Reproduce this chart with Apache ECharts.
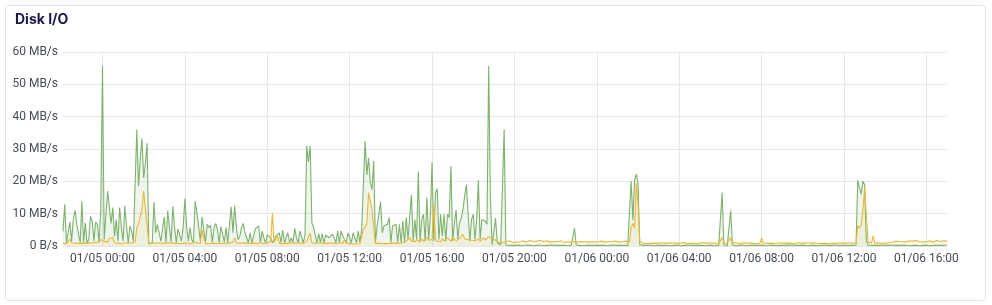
<!DOCTYPE html>
<html>
<head>
<meta charset="utf-8">
<script src="https://cdn.jsdelivr.net/npm/echarts@6/dist/echarts.min.js"></script>
<style>
  html, body { margin: 0; padding: 0; background: #ffffff; }
  #card { position: absolute; left: 5px; top: 5px; width: 979px; height: 294px; border: 1px solid #e3e4e8; border-radius: 3px; background: #fff; }
  #chart { position: absolute; left: 0; top: 0; width: 992px; height: 305px; }
</style>
</head>
<body>
<div id="card"></div>
<div id="chart"></div>
<script>
// Sampling: every 5 minutes from 01/04 22:05 to 01/06 17:00 (516 samples)
const startTime = { year: 2025, month: 0, day: 4, hour: 22, minute: 5 };
const stepMinutes = 5;
const sampleCount = 516;

const tickLabels = ['01/05 00:00', '01/05 04:00', '01/05 08:00', '01/05 12:00', '01/05 16:00', '01/05 20:00',
  '01/06 00:00', '01/06 04:00', '01/06 08:00', '01/06 12:00', '01/06 16:00'];

const yTicks = [0, 10, 20, 30, 40, 50, 60];

// MB/s, green series
const readValues = [
  4.5, 12.9, 1.0, 0.8, 7.4, 1.5, 8.2, 11.0, 6.8, 6.2, 1.0, 13.8,
  1.0, 7.2, 0.8, 2.0, 9.2, 7.7, 1.5, 7.4, 6.7, 1.2, 10.8, 55.7,
  2.0, 9.8, 17.0, 17.0, 7.0, 11.9, 3.0, 8.2, 1.5, 11.9, 5.7, 1.5,
  12.4, 6.2, 1.0, 6.2, 4.6, 1.5, 1.0, 36.0, 18.5, 27.0, 33.2, 21.0,
  25.5, 31.8, 0.6, 0.8, 1.0, 13.6, 4.1, 6.7, 4.1, 1.5, 2.0, 9.0,
  1.0, 11.0, 5.7, 1.2, 12.3, 5.7, 1.0, 5.2, 5.7, 1.5, 5.7, 14.7,
  6.2, 1.5, 5.7, 2.0, 1.0, 13.9, 10.3, 6.2, 1.5, 9.0, 5.2, 1.0,
  6.7, 5.7, 6.4, 1.0, 5.7, 7.0, 5.0, 1.0, 6.0, 6.0, 1.2, 5.7,
  1.0, 0.8, 12.1, 4.1, 12.4, 5.7, 2.0, 3.0, 5.7, 7.0, 4.1, 4.1,
  1.0, 4.1, 1.0, 0.8, 5.2, 5.2, 6.2, 1.0, 4.6, 2.5, 1.0, 3.5,
  4.1, 2.5, 1.0, 0.8, 3.0, 2.5, 4.1, 1.0, 4.9, 1.0, 0.8, 4.1,
  1.0, 2.5, 1.2, 5.5, 2.5, 1.0, 4.6, 4.6, 1.0, 3.5, 31.0, 26.0,
  31.0, 7.2, 5.7, 6.2, 1.0, 3.8, 1.0, 3.8, 1.0, 3.4, 3.4, 2.5,
  2.9, 3.6, 2.5, 1.0, 4.6, 1.0, 4.6, 3.1, 3.6, 1.0, 4.1, 3.6,
  1.0, 4.1, 4.1, 1.0, 4.6, 1.0, 5.2, 5.7, 32.5, 22.0, 27.3, 19.6,
  17.5, 26.3, 1.0, 6.2, 6.7, 13.7, 4.1, 6.2, 5.7, 6.7, 8.8, 1.0,
  6.2, 6.7, 6.7, 1.0, 6.7, 1.0, 7.7, 1.0, 8.8, 2.0, 9.3, 15.8,
  1.5, 8.2, 2.0, 23.0, 1.5, 8.2, 9.8, 1.5, 15.0, 2.0, 9.3, 25.8,
  1.5, 16.5, 17.7, 2.0, 9.8, 3.0, 9.8, 1.5, 9.8, 8.8, 24.7, 1.5,
  7.2, 11.1, 2.0, 7.2, 8.5, 11.3, 15.5, 19.0, 10.3, 1.5, 8.2, 9.8,
  2.0, 8.2, 20.3, 2.0, 8.2, 8.8, 7.7, 6.7, 55.7, 14.4, 0.3, 0.2,
  8.6, 1.0, 0.5, 0.3, 0.5, 36.0, 0.3, 0.2, 0.2, 0.3, 0.2, 0.2,
  0.2, 0.3, 0.2, 0.2, 0.1, 0.2, 0.3, 0.2, 0.2, 0.2, 0.1, 0.2,
  0.2, 0.2, 0.3, 0.2, 0.1, 0.2, 0.2, 0.2, 0.3, 0.2, 0.2, 0.1,
  0.2, 0.2, 0.2, 0.3, 0.2, 0.2, 0.1, 0.2, 0.2, 0.2, 5.5, 0.3,
  0.2, 0.2, 0.2, 0.1, 0.2, 0.2, 0.3, 0.2, 0.2, 0.2, 0.1, 0.2,
  0.2, 0.2, 0.3, 0.2, 0.2, 0.1, 0.2, 0.2, 0.2, 0.3, 0.2, 0.2,
  0.1, 0.2, 0.2, 0.2, 0.3, 0.2, 0.3, 20.1, 8.0, 20.5, 22.2, 19.5,
  0.4, 0.2, 0.2, 0.1, 0.2, 0.2, 0.3, 0.2, 0.1, 0.2, 0.2, 0.2,
  0.2, 0.1, 0.2, 0.3, 0.2, 0.2, 0.1, 0.2, 0.2, 0.2, 0.3, 0.2,
  0.1, 0.2, 0.2, 0.2, 0.3, 0.2, 0.2, 0.1, 0.2, 0.2, 0.2, 0.3,
  0.2, 0.2, 0.1, 0.2, 0.2, 0.3, 0.2, 0.2, 0.1, 0.2, 0.2, 0.3,
  16.5, 0.3, 0.2, 0.2, 0.3, 11.0, 0.3, 0.2, 0.1, 0.2, 0.2, 0.2,
  0.3, 0.2, 0.1, 0.2, 0.2, 0.2, 0.3, 0.2, 0.2, 0.1, 0.2, 0.3,
  0.2, 0.2, 0.1, 0.2, 0.3, 0.2, 0.2, 0.2, 0.1, 0.2, 0.2, 0.3,
  0.2, 0.1, 0.2, 0.2, 0.3, 0.2, 0.2, 0.1, 0.2, 0.2, 0.2, 0.3,
  0.2, 0.2, 0.1, 0.2, 0.2, 0.3, 0.2, 0.2, 0.1, 0.2, 0.2, 0.2,
  0.3, 0.2, 0.2, 0.1, 0.2, 0.2, 0.3, 0.2, 0.2, 0.1, 0.2, 0.2,
  0.2, 0.3, 0.2, 0.1, 0.2, 0.2, 0.3, 20.3, 20.0, 16.0, 20.0, 19.0,
  1.5, 0.3, 0.2, 0.2, 0.3, 0.2, 0.1, 0.2, 0.2, 0.3, 0.2, 0.2,
  0.1, 0.2, 0.2, 0.3, 0.2, 0.2, 0.1, 0.2, 0.2, 0.2, 0.3, 0.2,
  0.2, 0.1, 0.2, 0.2, 0.3, 0.2, 0.2, 0.1, 0.2, 0.2, 0.3, 0.2,
  0.2, 0.1, 0.2, 0.2, 0.3, 0.2, 0.2, 0.2, 0.1, 0.2, 0.2, 0.3
];

// MB/s, yellow series
const writeValues = [
  0.8, 1.0, 0.7, 1.2, 2.1, 1.0, 0.8, 0.9, 1.1, 0.8, 1.0, 0.9,
  1.0, 0.8, 1.1, 0.9, 0.8, 1.0, 0.9, 1.1, 1.0, 1.2, 2.0, 2.3,
  1.5, 0.9, 1.2, 2.4, 2.0, 2.6, 1.0, 0.8, 0.9, 1.0, 0.7, 0.8,
  1.0, 0.6, 0.9, 0.7, 1.0, 0.8, 1.2, 5.7, 6.7, 6.2, 11.3, 17.0,
  11.5, 11.3, 1.0, 0.8, 0.9, 1.1, 0.8, 0.7, 1.0, 0.9, 0.8, 1.1,
  0.9, 0.8, 1.0, 0.7, 0.9, 1.1, 0.8, 0.9, 0.7, 1.0, 0.8, 0.9,
  1.0, 0.8, 0.7, 0.9, 1.0, 0.8, 1.1, 0.9, 0.8, 5.0, 2.5, 0.8,
  0.9, 0.7, 1.0, 0.8, 0.9, 0.8, 1.0, 0.7, 0.9, 0.8, 1.0, 0.9,
  0.8, 0.9, 1.0, 1.2, 2.5, 1.0, 0.8, 0.9, 0.7, 1.0, 0.8, 0.9,
  1.0, 0.8, 0.7, 0.9, 1.0, 0.8, 0.9, 1.1, 0.8, 0.7, 0.9, 1.0,
  0.8, 1.5, 10.3, 1.2, 0.9, 3.0, 0.8, 1.0, 0.7, 0.9, 0.8, 1.0,
  0.9, 0.8, 1.0, 0.7, 0.9, 0.8, 1.0, 0.9, 0.8, 1.0, 1.5, 1.2,
  4.0, 1.0, 0.8, 0.9, 0.7, 1.0, 0.8, 0.9, 1.0, 0.8, 0.7, 0.9,
  0.8, 1.0, 0.9, 0.7, 0.8, 1.0, 0.9, 0.8, 2.0, 0.9, 0.7, 0.8,
  0.9, 0.7, 0.8, 0.6, 0.9, 0.7, 0.8, 5.2, 5.5, 6.7, 16.5, 16.0,
  11.3, 11.0, 0.8, 0.7, 0.9, 0.8, 0.7, 1.0, 0.8, 0.9, 0.7, 0.8,
  0.9, 1.0, 0.8, 0.7, 0.9, 1.2, 1.0, 0.9, 1.5, 1.8, 2.6, 1.5,
  1.8, 1.3, 2.0, 1.6, 1.2, 2.2, 1.5, 1.3, 2.6, 1.8, 1.4, 2.0,
  13.0, 2.2, 1.5, 1.8, 1.3, 2.4, 1.6, 1.9, 2.5, 2.1, 1.5, 2.8,
  2.3, 1.6, 2.0, 2.4, 1.8, 3.6, 2.2, 1.7, 2.0, 1.5, 1.8, 2.3,
  1.6, 2.0, 2.2, 1.5, 1.9, 2.5, 1.8, 1.6, 2.9, 2.4, 2.3, 2.0,
  1.8, 1.5, 1.2, 1.4, 1.1, 1.5, 1.3, 1.2, 1.6, 1.4, 1.1, 1.3,
  1.2, 1.5, 1.3, 1.1, 1.6, 1.4, 1.2, 1.3, 1.7, 1.1, 1.4, 1.2,
  1.5, 1.3, 1.8, 1.2, 1.4, 1.1, 1.6, 1.3, 1.2, 1.5, 1.4, 1.9,
  1.3, 1.2, 1.6, 1.4, 1.1, 1.5, 1.3, 1.7, 1.2, 1.4, 1.3, 1.6,
  1.2, 1.5, 1.4, 1.1, 1.3, 1.8, 1.2, 1.5, 1.3, 1.4, 1.2, 1.6,
  1.3, 1.1, 1.5, 1.4, 1.2, 1.6, 1.3, 1.2, 1.4, 1.1, 1.5, 1.3,
  1.2, 1.4, 1.3, 1.1, 1.5, 1.2, 1.3, 5.7, 7.0, 5.5, 19.5, 13.0,
  1.5, 0.9, 0.8, 1.0, 0.7, 0.9, 0.8, 1.0, 0.9, 0.7, 0.8, 1.0,
  0.9, 0.8, 1.0, 0.7, 0.9, 1.1, 0.8, 0.9, 1.0, 0.7, 0.8, 1.0,
  0.9, 0.8, 1.1, 0.9, 0.7, 1.0, 0.8, 0.9, 0.8, 1.0, 0.7, 0.9,
  1.0, 0.8, 0.9, 0.7, 1.0, 0.8, 0.9, 1.1, 0.8, 0.9, 0.7, 1.0,
  2.6, 0.9, 0.8, 1.0, 0.7, 2.6, 0.9, 0.8, 1.0, 0.9, 0.7, 0.8,
  1.0, 0.9, 0.8, 0.7, 1.0, 0.9, 0.8, 1.0, 0.7, 0.9, 0.8, 2.4,
  0.9, 1.0, 0.8, 0.7, 0.9, 1.0, 0.8, 0.9, 0.7, 0.8, 1.0, 0.9,
  0.8, 0.7, 0.9, 1.0, 0.8, 0.9, 0.7, 0.8, 1.0, 0.9, 0.8, 0.7,
  0.9, 0.8, 1.0, 0.7, 0.8, 0.9, 1.0, 0.8, 0.7, 0.9, 0.8, 1.0,
  0.8, 0.9, 0.7, 1.0, 0.8, 0.9, 0.8, 0.7, 1.0, 0.9, 0.8, 0.7,
  0.9, 0.8, 1.0, 0.7, 0.8, 0.9, 1.0, 6.2, 5.5, 6.5, 11.0, 18.0,
  17.5, 1.2, 0.8, 0.9, 3.1, 0.8, 0.9, 1.0, 0.8, 0.9, 1.0, 0.8,
  0.9, 1.0, 0.8, 1.1, 1.3, 1.5, 1.2, 1.4, 1.8, 1.3, 1.5, 1.2,
  1.4, 1.6, 1.3, 1.5, 1.2, 1.7, 1.4, 1.3, 1.6, 1.2, 1.5, 1.4,
  1.3, 1.6, 1.4, 1.2, 1.5, 1.7, 1.3, 1.4, 1.2, 1.6, 1.4, 1.5
];

function pad(n) { return (n < 10 ? '0' : '') + n; }
const base = Date.UTC(startTime.year, startTime.month, startTime.day, startTime.hour, startTime.minute);
const categories = [];
for (let i = 0; i < sampleCount; i++) {
  const d = new Date(base + i * stepMinutes * 60000);
  categories.push(pad(d.getUTCMonth() + 1) + '/' + pad(d.getUTCDate()) + ' ' + pad(d.getUTCHours()) + ':' + pad(d.getUTCMinutes()));
}
const showTick = function (index, value) { return tickLabels.indexOf(categories[index]) !== -1; };

const chart = echarts.init(document.getElementById('chart'), null, { renderer: 'canvas' });
chart.setOption({
  animation: false,
  backgroundColor: 'transparent',
  title: {
    text: 'Disk I/O',
    left: 15, top: 13, padding: 0,
    textStyle: { fontFamily: 'Inter', fontSize: 14, fontWeight: 'bold', color: '#1a1a4a' }
  },
  grid: { left: 63, right: 45, top: 52, bottom: 59, containLabel: false },
  xAxis: {
    type: 'category',
    data: categories,
    boundaryGap: false,
    axisLine: { show: false },
    axisTick: { show: false },
    axisLabel: { interval: showTick, margin: 7, color: '#464c54', fontFamily: 'Roboto', fontSize: 12 },
    splitLine: { show: true, interval: showTick, lineStyle: { color: '#e6e7ea', width: 1 } }
  },
  yAxis: {
    type: 'value',
    min: yTicks[0], max: yTicks[yTicks.length - 1], interval: 10,
    axisLine: { show: false },
    axisTick: { show: false },
    axisLabel: {
      margin: 5, color: '#464c54', fontFamily: 'Roboto', fontSize: 12,
      formatter: function (v) { return v === 0 ? '0 B/s' : v + ' MB/s'; }
    },
    splitLine: { lineStyle: { color: '#e6e7ea', width: 1 } }
  },
  series: [
    {
      name: 'read', type: 'line', data: readValues, showSymbol: false, symbol: 'none',
      lineStyle: { color: '#7EB26D', width: 1.1 },
      itemStyle: { color: '#7EB26D' },
      areaStyle: { color: '#7EB26D', opacity: 0.12 }
    },
    {
      name: 'write', type: 'line', data: writeValues, showSymbol: false, symbol: 'none',
      lineStyle: { color: '#EAB839', width: 1.1 },
      itemStyle: { color: '#EAB839' },
      areaStyle: { color: '#EAB839', opacity: 0.1 }
    }
  ]
});
</script>
</body>
</html>
